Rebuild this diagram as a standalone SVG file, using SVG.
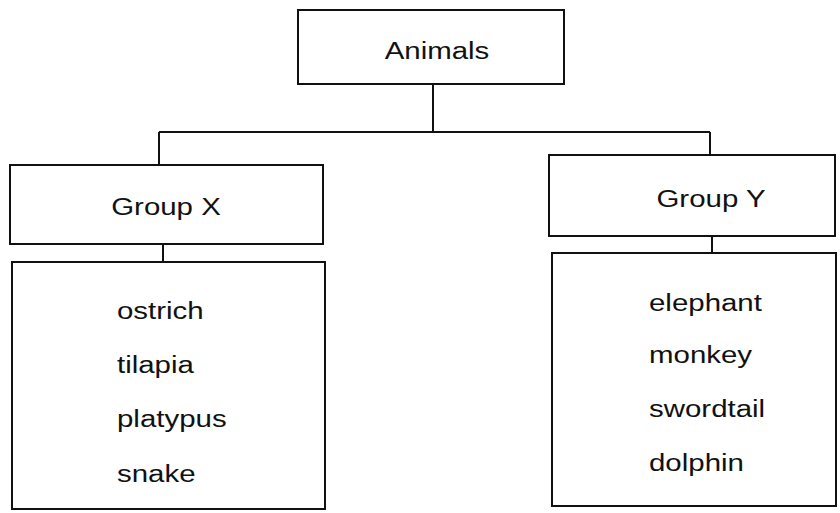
<svg xmlns="http://www.w3.org/2000/svg" width="840" height="513" viewBox="0 0 840 513">
<style>
.box{fill:#fff;stroke:#111;stroke-width:2}
.ln{fill:none;stroke:#111;stroke-width:2}
.t{font-family:"Liberation Sans",Arial,sans-serif;font-size:23px;fill:#111}
.c{text-anchor:middle}
</style>
<rect width="840" height="513" fill="#fff"/>
<g id="connectors">
<path class="ln" d="M433 84 V132 M159 132 H710 M159 132 V165 M710 132 V155 M163 244 V262 M712 236 V253"/>
</g>
<g id="animals">
<rect class="box" x="298" y="10" width="266" height="74"/>
<text class="t c" transform="translate(437,59) scale(1.28,1)">Animals</text>
</g>
<g id="groupX">
<rect class="box" x="10" y="165" width="313" height="79"/>
<text class="t c" transform="translate(166,215) scale(1.28,1)">Group X</text>
</g>
<g id="groupY">
<rect class="box" x="549" y="155" width="286" height="81"/>
<text class="t c" transform="translate(711,207) scale(1.28,1)">Group Y</text>
</g>
<g id="listX">
<rect class="box" x="12" y="262" width="313" height="247"/>
<text class="t" transform="translate(117,319) scale(1.28,1)">ostrich</text>
<text class="t" transform="translate(117,373) scale(1.28,1)">tilapia</text>
<text class="t" transform="translate(117,427) scale(1.28,1)">platypus</text>
<text class="t" transform="translate(117,482) scale(1.28,1)">snake</text>
</g>
<g id="listY">
<rect class="box" x="552" y="253" width="284" height="253"/>
<text class="t" transform="translate(649,311) scale(1.28,1)">elephant</text>
<text class="t" transform="translate(649,363) scale(1.28,1)">monkey</text>
<text class="t" transform="translate(649,417) scale(1.28,1)">swordtail</text>
<text class="t" transform="translate(649,471) scale(1.28,1)">dolphin</text>
</g>
</svg>
